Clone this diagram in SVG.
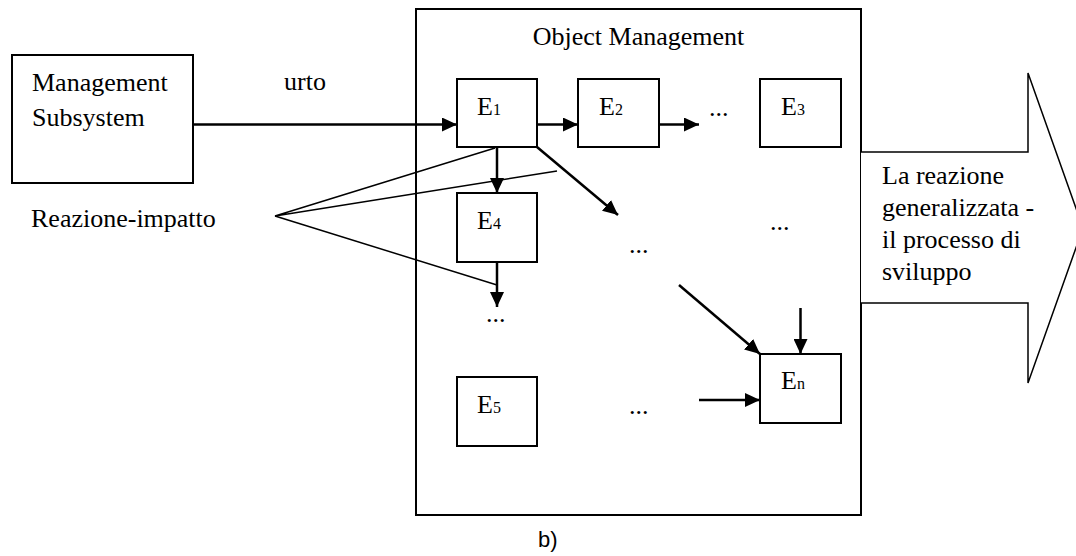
<svg xmlns="http://www.w3.org/2000/svg" width="1076" height="556" viewBox="0 0 1076 556">
<style>
.box{fill:#fff;stroke:#000;stroke-width:2}
.t{font-family:"Liberation Serif","Times New Roman",serif;font-size:26px;fill:#000}
.sub{font-size:16px}
.c{stroke:#000;stroke-width:2.5;fill:none}
.thin{stroke:#000;stroke-width:1.5;fill:none}
.ar{marker-end:url(#ah)}
</style>
<defs>
<marker id="ah" markerUnits="userSpaceOnUse" markerWidth="16" markerHeight="14" refX="15" refY="7" orient="auto">
<path d="M0,0 L15,7 L0,14 z" fill="#000"/>
</marker>
</defs>
<rect width="1076" height="556" fill="#fff"/>

<g id="object-management">
<rect class="box" x="416" y="9" width="445" height="506"/>
<text class="t" x="638.5" y="45" text-anchor="middle">Object Management</text>
</g>

<g id="development-arrow">
<path d="M861,152 L1028,152 L1028,73 L1083,228 L1028,383 L1028,303 L861,303" fill="#fff" stroke="#000" stroke-width="1.5"/>
<text class="t" x="882" y="184">La reazione</text>
<text class="t" x="882" y="216">generalizzata -</text>
<text class="t" x="882" y="248">il processo di</text>
<text class="t" x="882" y="280">sviluppo</text>
</g>

<g id="management-subsystem">
<rect class="box" x="12" y="55" width="181" height="128"/>
<text class="t" x="32" y="91">Management</text>
<text class="t" x="32" y="126">Subsystem</text>
</g>

<g id="e1"><rect class="box" x="457" y="79" width="80" height="68"/><text class="t" x="477" y="115">E<tspan class="sub">1</tspan></text></g>
<g id="e2"><rect class="box" x="578" y="79" width="81" height="68"/><text class="t" x="599" y="115">E<tspan class="sub">2</tspan></text></g>
<g id="e3"><rect class="box" x="760" y="79" width="81" height="68"/><text class="t" x="781" y="115">E<tspan class="sub">3</tspan></text></g>
<g id="e4"><rect class="box" x="457" y="193" width="80" height="69"/><text class="t" x="477" y="229">E<tspan class="sub">4</tspan></text></g>
<g id="e5"><rect class="box" x="457" y="377" width="80" height="69"/><text class="t" x="477" y="413">E<tspan class="sub">5</tspan></text></g>
<g id="en"><rect class="box" x="760" y="354" width="81" height="69"/><text class="t" x="781" y="389">E<tspan class="sub">n</tspan></text></g>

<g id="labels">
<text class="t" x="284" y="90">urto</text>
<text class="t" x="31" y="227">Reazione-impatto</text>
<text class="t" x="709" y="116">...</text>
<text class="t" x="629" y="253">...</text>
<text class="t" x="770" y="230">...</text>
<text class="t" x="486" y="322">...</text>
<text class="t" x="629" y="414">...</text>
<text x="538" y="547" font-family="'Liberation Sans',Arial,sans-serif" font-size="22" fill="#000">b)</text>
</g>

<g id="connectors">
<line class="c ar" x1="193" y1="124.5" x2="457" y2="124.5"/>
<line class="c ar" x1="537" y1="124.5" x2="578" y2="124.5"/>
<line class="c ar" x1="659" y1="124.5" x2="699" y2="124.5"/>
<line class="c ar" x1="497" y1="147" x2="497" y2="193"/>
<line class="c ar" x1="537" y1="147" x2="618" y2="215"/>
<line class="c ar" x1="497" y1="262" x2="497" y2="307"/>
<line class="c ar" x1="679" y1="285" x2="760" y2="354"/>
<line class="c ar" x1="800.5" y1="308" x2="800.5" y2="354"/>
<line class="c ar" x1="699" y1="400" x2="760" y2="400"/>
<polyline class="thin" points="495,148 275,216 557,171"/>
<line class="thin" x1="275" y1="216" x2="497" y2="285"/>
</g>
</svg>
